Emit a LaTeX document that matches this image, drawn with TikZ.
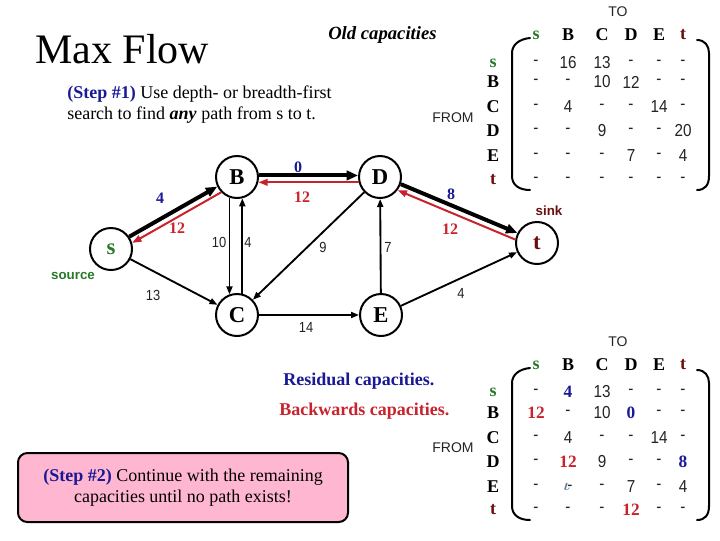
\documentclass[tikz,border=0pt]{standalone}
\usepackage{fontspec}
\setmainfont{Liberation Serif}
\setsansfont{Liberation Sans}
\newfontfamily\nsans[FakeStretch=0.88]{Liberation Sans}
\usetikzlibrary{arrows.meta}
\definecolor{blueL}{RGB}{25,25,150}
\definecolor{redL}{RGB}{200,35,45}
\definecolor{greenS}{RGB}{40,120,40}
\definecolor{darkT}{RGB}{105,15,15}
\definecolor{pinkB}{RGB}{255,182,208}
\definecolor{slateC}{RGB}{95,125,160}
\definecolor{numC}{RGB}{35,35,35}
\newcommand\mb[1]{\textcolor{blueL}{\rmfamily\bfseries #1}}
\newcommand\mr[1]{\textcolor{redL}{\rmfamily\bfseries #1}}
\begin{document}
\begin{tikzpicture}[x=0.75pt,y=-0.75pt,
  vert/.style={circle,draw,line width=1.5pt,minimum size=31.5pt,inner sep=0pt,
    font=\fontsize{17}{17}\selectfont\bfseries},
  thinarr/.style={line width=1.4pt,-{Triangle[length=6pt,width=4.5pt]}},
  thickarr/.style={line width=3pt,-{Triangle[length=8.5pt,width=7pt]}},
  redarr/.style={draw=redL,line width=1.5pt,-{Triangle[length=7pt,width=5pt]}},
  clab/.style={inner sep=0pt,font=\fontsize{12}{12}\selectfont\bfseries},
  nlab/.style={inner sep=0pt,text=numC,font=\fontsize{11}{11}\selectfont\nsans},
  ent/.style={inner sep=0pt,text=numC,font=\fontsize{13}{13}\selectfont\nsans},
  hdr/.style={inner sep=0pt,font=\fontsize{13.5}{13.5}\selectfont\bfseries},
  axl/.style={inner sep=0pt,text=numC,font=\fontsize{10.5}{10.5}\selectfont\sffamily},
  bracket/.style={line width=1.5pt,line cap=round},
  txt/.style={inner sep=0pt,anchor=base west,font=\fontsize{13.5}{13.5}\selectfont}
]
\useasboundingbox (0,0) rectangle (720,540);

% title
\node[inner sep=0pt,anchor=base west,font=\fontsize{31.5}{31.5}\selectfont] (title) at (35,63) {Max Flow};
\node[inner sep=0pt,anchor=base west,font=\fontsize{14}{14}\selectfont\bfseries\itshape] (old) at (328,39) {Old capacities};
\node[txt] (st1a) at (67,98) {\textcolor{blueL}{\bfseries (Step \#1)} Use depth- or breadth-first};
\node[txt] (st1b) at (67,119) {search to find \textbf{\textit{any}} path from s to t.};

% graph
\node[vert,text=greenS] (s) at (111,249) {s};
\node[vert] (B) at (237,177) {B};
\node[vert] (D) at (380,177) {D};
\node[vert] (C) at (237,315) {C};
\node[vert] (E) at (381,315) {E};
\node[vert,text=darkT] (t) at (537,243) {t};
\node[inner sep=0pt,text=greenS,font=\fontsize{10}{10}\selectfont\sffamily\bfseries] (srcl) at (73,276) {source};
\node[inner sep=0pt,text=darkT,font=\fontsize{10}{10}\selectfont\sffamily\bfseries] (sinkl) at (549,211) {sink};

\draw[thickarr] (s.34) -- (B.206);
\draw[redarr] (B.224) -- (s.16);
\draw[thickarr] (B.4) -- (D.176);
\draw[redarr] (D.194) -- (B.346);
\draw[thickarr] (D.-19) -- (t.153);
\draw[redarr] (t.171) -- (D.-37);
\draw[thinarr] (B.250) -- (C.110);
\draw[thinarr] (C.76) -- (B.284);
\draw[thinarr] (D) -- (C);
\draw[thinarr] (E) -- (D);
\draw[thinarr] (s) -- (C);
\draw[thinarr] (C) -- (E);
\draw[thinarr] (E) -- (t);

\node[clab,text=blueL] (l1) at (160,198) {4};
\node[clab,text=redL] (l2) at (177,228) {12};
\node[clab,text=blueL] (l3) at (298,167) {0};
\node[clab,text=redL] (l4) at (302,197) {12};
\node[clab,text=blueL] (l5) at (451,194) {8};
\node[clab,text=redL] (l6) at (450,229) {12};
\node[nlab] (n1) at (219,242) {10};
\node[nlab] (n2) at (248,242) {4};
\node[nlab] (n3) at (323,247) {9};
\node[nlab] (n4) at (388,247) {7};
\node[nlab] (n5) at (153,295) {13};
\node[nlab] (n6) at (306,327) {14};
\node[nlab] (n7) at (461,293) {4};

% lower left texts
\node[txt,text=blueL,font=\fontsize{13.5}{13.5}\selectfont\bfseries] (resid) at (283,385) {Residual capacities.};
\node[txt,text=redL,font=\fontsize{13.5}{13.5}\selectfont\bfseries] (backw) at (279,415) {Backwards capacities.};
\node[draw,line width=1.5pt,fill=pinkB,rounded corners=7pt,minimum width=247.5pt,minimum height=51.75pt,
  align=center,font=\fontsize{13.5}{15.75}\selectfont] (step2) at (183,487.5)
  {\textcolor{blueL}{\bfseries (Step \#2)} Continue with the remaining\\capacities until no path exists!};

% matrices
\foreach \oy/\mm in {0/top,330/bot}{
  \node[axl] (to-\mm) at (618,12+\oy) {TO};
  \node[axl] (from-\mm) at (453,118+\oy) {FROM};
  \draw[bracket] (530,38+\oy) .. controls (519,39+\oy) and (512,45+\oy) .. (512,53+\oy)
     -- (512,176+\oy) .. controls (512,185+\oy) and (519,190+\oy) .. (530,190+\oy);
  \draw[bracket] (697,40+\oy) .. controls (705,40+\oy) and (709,46+\oy) .. (709,53+\oy)
     -- (709,176+\oy) .. controls (709,185+\oy) and (705,190+\oy) .. (697,190+\oy);
  \foreach \h [count=\j] in {{\textcolor{greenS}{s}},B,C,D,E,{\textcolor{darkT}{t}}}{
    \pgfmathsetmacro\xx{{536,568,602,631,659,683}[\j-1]}
    \node[hdr] (ch-\mm-\j) at (\xx,35+\oy) {\h};
  }
}
\foreach \h [count=\i] in {{\textcolor{greenS}{s}},B,C,D,E,{\textcolor{darkT}{t}}}{
  \pgfmathsetmacro\ya{{63,82,107,131,156,180}[\i-1]}
  \pgfmathsetmacro\yb{{392,413,438,462,487,510}[\i-1]}
  \node[hdr] (rh-top-\i) at (493,\ya) {\h};
  \node[hdr] (rh-bot-\i) at (493,\yb) {\h};
}
\foreach \r [count=\i] in {{-,16,13,-,-,-},{-,-,10,12,-,-},{-,4,-,-,14,-},{-,-,9,-,-,20},{-,-,-,7,-,4},{-,-,-,-,-,-}}{
  \pgfmathsetmacro\ya{{63,82,107,131,156,180}[\i-1]}
  \foreach \v [count=\j] in \r {
    \pgfmathsetmacro\xx{{536,568,602,631,659,683}[\j-1]}
    \node[ent] (mt-\i-\j) at (\xx,\ya) {\v};
  }
}
\foreach \r [count=\i] in {{-,\mb{4},13,-,-,-},{\mr{12},-,10,\mb{0},-,-},{-,4,-,-,14,-},{-,\mr{12},9,-,-,\mb{8}},{-,{\textcolor{slateC}{\boldmath$\iota$}\kern-2pt-},-,7,-,4},{-,-,-,\mr{12},-,-}}{
  \pgfmathsetmacro\yb{{392,413,438,462,487,510}[\i-1]}
  \foreach \v [count=\j] in \r {
    \pgfmathsetmacro\xx{{536,568,602,631,659,683}[\j-1]}
    \node[ent] (mb-\i-\j) at (\xx,\yb) {\v};
  }
}
\end{tikzpicture}
\end{document}
